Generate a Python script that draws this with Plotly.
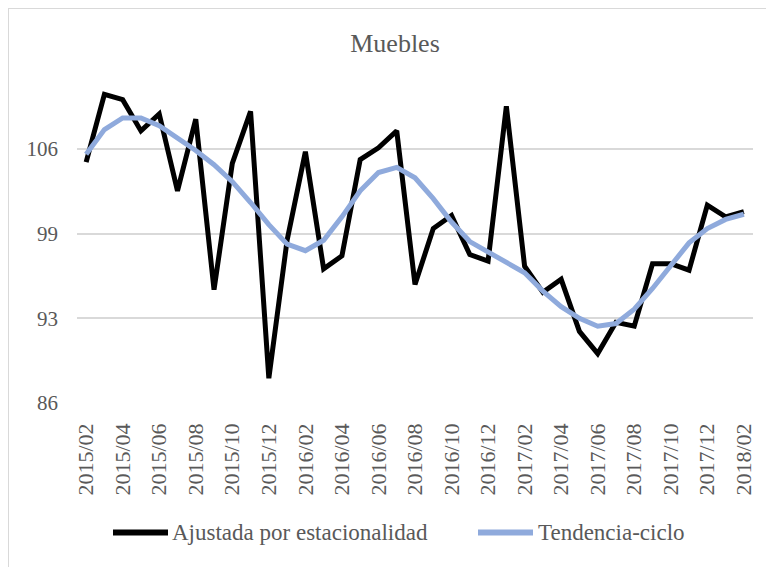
import plotly.graph_objects as go

months = ["2015/02","2015/03","2015/04","2015/05","2015/06","2015/07","2015/08","2015/09","2015/10","2015/11","2015/12",
          "2016/01","2016/02","2016/03","2016/04","2016/05","2016/06","2016/07","2016/08","2016/09","2016/10","2016/11","2016/12",
          "2017/01","2017/02","2017/03","2017/04","2017/05","2017/06","2017/07","2017/08","2017/09","2017/10","2017/11","2017/12",
          "2018/01","2018/02"]

ajustada = [104.5, 109.7, 109.3, 106.9, 108.2, 102.3, 107.8, 94.7, 104.4, 108.4, 87.9,
            98.5, 105.3, 96.3, 97.3, 104.7, 105.6, 106.9, 95.1, 99.4, 100.4, 97.4, 96.9,
            108.8, 96.5, 94.5, 95.5, 91.5, 89.8, 92.2, 91.9, 96.7, 96.7, 96.2, 101.2,
            100.3, 100.7]

tendencia = [105.1, 107.0, 107.9, 107.9, 107.3, 106.4, 105.4, 104.3, 103.0, 101.4, 99.7,
             98.2, 97.7, 98.5, 100.3, 102.3, 103.7, 104.1, 103.3, 101.7, 99.9, 98.4, 97.6,
             96.9, 96.0, 94.6, 93.4, 92.5, 91.9, 92.1, 93.2, 94.8, 96.6, 98.3, 99.4,
             100.1, 100.5]

series_names = ["Ajustada por estacionalidad", "Tendencia-ciclo"]
series_colors = ["#000000", "#8FAADC"]

tick_labels = months[::2]
y_tickvals = [86, 92.5, 99, 105.5]
y_ticktext = ["86", "93", "99", "106"]

FONT = "Liberation Serif"
GRAY = "#595959"

# page body has an 8px default margin, so the figure is sized to the visible area
W, H = 766, 559
PL, PR, PT, PB = 69, 745, 52, 395.3


def px_x(x):
    return (x - PL) / (PR - PL)


def px_y(y):
    return (PB - y) / (PB - PT)


fig = go.Figure()
for name, vals, col in zip(series_names, [ajustada, tendencia], series_colors):
    fig.add_trace(go.Scatter(x=months, y=vals, mode="lines", name=name,
                             line=dict(color=col, width=5), showlegend=False))

# legend drawn below the plot (long line samples as in the reference)
LEG_Y = 525
legend_items = [(105, 160, 162), (470, 525, 528)]  # line start, line end, text start (px)
shapes = [dict(type="rect", xref="paper", yref="paper",
               x0=px_x(0), x1=px_x(790), y0=px_y(580), y1=px_y(0),
               line=dict(color="#D9D9D9", width=2), fillcolor="rgba(0,0,0,0)", layer="below")]
annotations = []
for (lx0, lx1, tx), name, col in zip(legend_items, series_names, series_colors):
    shapes.append(dict(type="line", xref="paper", yref="paper",
                       x0=px_x(lx0), x1=px_x(lx1), y0=px_y(LEG_Y), y1=px_y(LEG_Y),
                       line=dict(color=col, width=6)))
    annotations.append(dict(xref="paper", yref="paper", x=px_x(tx), y=px_y(LEG_Y),
                            xanchor="left", yanchor="middle", text=name, showarrow=False,
                            font=dict(family=FONT, size=23, color=GRAY)))

fig.update_layout(
    width=W, height=H,
    margin=dict(l=PL, r=W - PR, t=PT, b=H - PB, autoexpand=False),
    paper_bgcolor="white", plot_bgcolor="white",
    font=dict(family=FONT, color=GRAY, size=21),
    title=dict(text="Muebles", x=387 / W, xanchor="center", y=1 - 35 / H, yanchor="middle",
               font=dict(family=FONT, size=26, color=GRAY)),
    showlegend=False,
    xaxis=dict(type="category", range=[-0.5, 36.5], tickmode="array",
               tickvals=tick_labels, ticktext=tick_labels, tickangle=-90,
               showgrid=False, showline=False, ticks="", zeroline=False,
               ticklabelstandoff=15,
               tickfont=dict(family=FONT, size=22, color=GRAY)),
    yaxis=dict(range=[86, 86 + (PB - PT) / 13.03], tickmode="array", tickvals=y_tickvals, ticktext=y_ticktext,
               showgrid=True, gridcolor="#D9D9D9", gridwidth=2, zeroline=False,
               showline=False, ticks="", ticklabelstandoff=18,
               tickfont=dict(family=FONT, size=21, color=GRAY)),
    shapes=shapes,
    annotations=annotations,
)

fig.write_html("out.html")
